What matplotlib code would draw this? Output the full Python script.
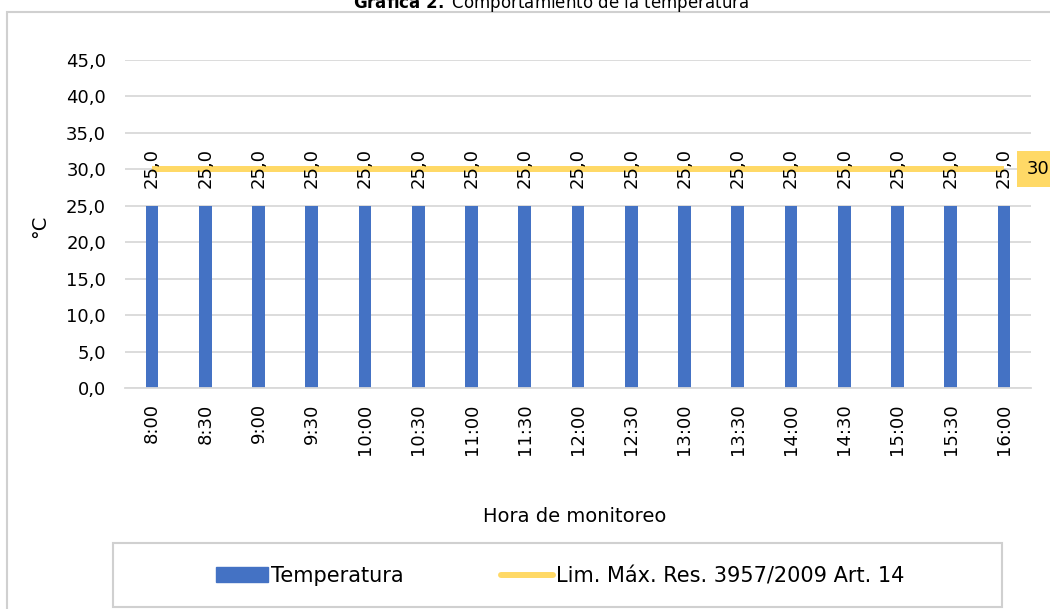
import matplotlib.pyplot as plt
from matplotlib.patches import Rectangle, Patch
from matplotlib.lines import Line2D

horas = ["8:00", "8:30", "9:00", "9:30", "10:00", "10:30", "11:00", "11:30", "12:00",
         "12:30", "13:00", "13:30", "14:00", "14:30", "15:00", "15:30", "16:00"]
temperatura = [25.0] * 17
limite = [30] * 17
yticks = [0, 5, 10, 15, 20, 25, 30, 35, 40, 45]

BLUE = "#4472C4"
GOLD = "#FFD966"
GRID = "#D9D9D9"

plt.rcParams["font.family"] = ["DejaVu Sans"]

fig = plt.figure(figsize=(10.5, 6.09), dpi=100)
ax = fig.add_axes([125.4 / 1050, 1 - 388 / 609, 905.2 / 1050, 328 / 609])

x = list(range(len(horas)))
ax.bar(x, temperatura, width=0.24, color=BLUE, zorder=2)
ax.plot(x, limite, color=GOLD, linewidth=4.3, solid_capstyle="butt", zorder=3)

# etiquetas de datos
for xi, v in zip(x, temperatura):
    ax.annotate(f"{v:.1f}".replace(".", ","), (xi, v), xytext=(0, 13), textcoords="offset points",
                rotation=90, ha="center", va="bottom", fontsize=13, color="#000000", zorder=4)
ax.annotate(f"{limite[-1]}", (x[-1], limite[-1]), xytext=(16, 0), textcoords="offset points",
            ha="left", va="center", fontsize=13, color="#000000", zorder=5,
            bbox=dict(boxstyle="square,pad=0.5", fc=GOLD, ec="none"), annotation_clip=False)

ax.set_xlim(-0.5, len(horas) - 0.5)
ax.set_ylim(0, 45)
ax.set_yticks(yticks)
ax.set_yticklabels([f"{t:.1f}".replace(".", ",") for t in yticks], fontsize=13)
ax.set_xticks(x)
ax.set_xticklabels(horas, rotation=90, fontsize=13)
ax.tick_params(axis="both", length=0)
ax.tick_params(axis="x", pad=11)
ax.tick_params(axis="y", pad=14)
ax.grid(axis="y", color=GRID, linewidth=1.3, zorder=0)
ax.set_axisbelow(True)
for s in ["top", "right", "left"]:
    ax.spines[s].set_visible(False)
ax.spines["bottom"].set_color(GRID)
ax.spines["bottom"].set_linewidth(1.3)

fig.text(40 / 1050, 1 - 226 / 609, "°C", rotation=90, ha="center", va="center", fontsize=14)
fig.text(575 / 1050, 1 - 517 / 609, "Hora de monitoreo", ha="center", va="center", fontsize=14)

# titulo (cortado arriba)
fig.text(551 / 1050, 1 - 8 / 609, r"$\bf{Gráfica\ 2.}$ Comportamiento de la temperatura",
         ha="center", va="baseline", fontsize=12)

# marco exterior
fig.patches.append(Rectangle((7 / 1050, -0.05), 1.1, 1.05 - 12 / 609, transform=fig.transFigure,
                             fill=False, ec="#D0D0D0", lw=1.5))
# marco de la leyenda
fig.patches.append(Rectangle((113 / 1050, 1 - 607 / 609), 889 / 1050, 64 / 609,
                             transform=fig.transFigure, fill=False, ec="#D0D0D0", lw=1.5))

handles = [Patch(color=BLUE), Line2D([0], [0], color=GOLD, lw=4.3, solid_capstyle="round")]
fig.legend(handles, ["Temperatura", "Lim. Máx. Res. 3957/2009 Art. 14"], ncol=2,
           loc="center", bbox_to_anchor=(560 / 1050, 1 - 576 / 609), frameon=False,
           fontsize=15, handlelength=2.5, handletextpad=0.15, columnspacing=4.65)

fig.savefig("out.png", dpi=100)
